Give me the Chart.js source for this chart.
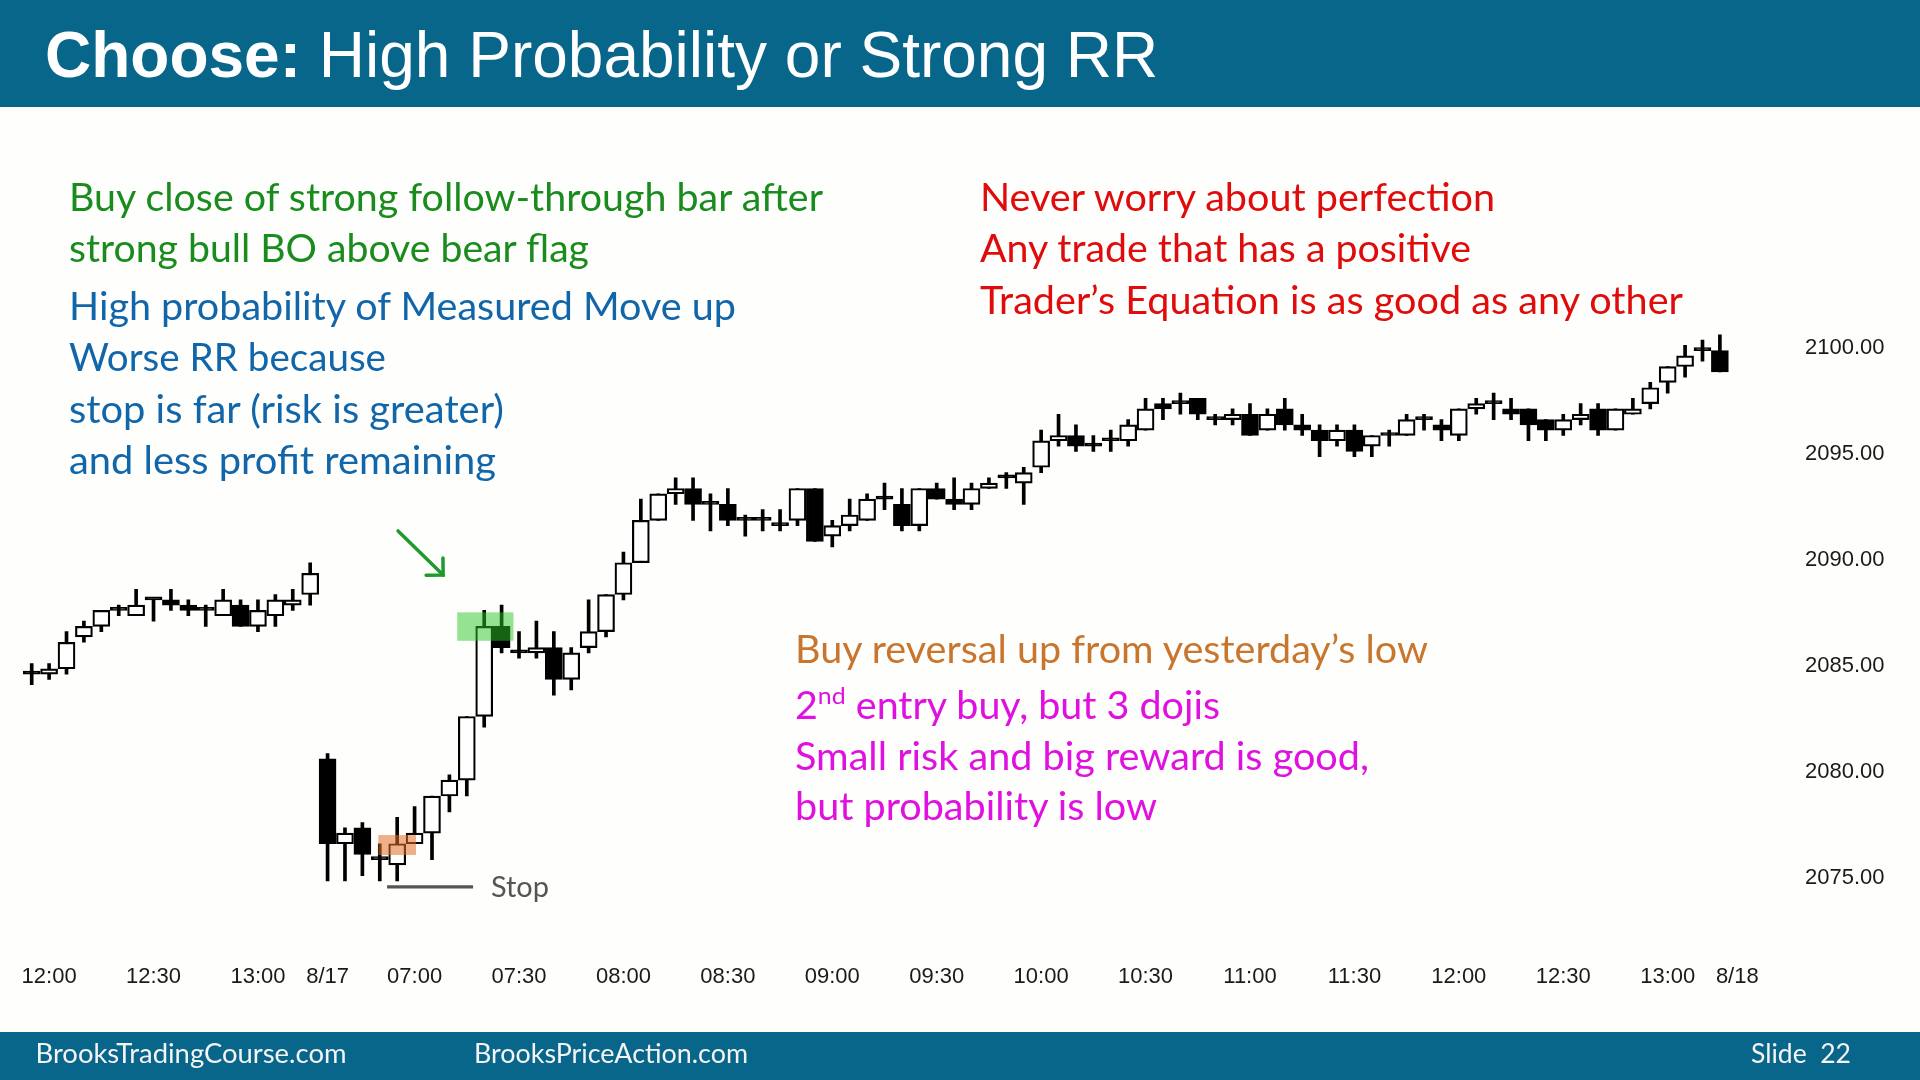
<!DOCTYPE html>
<html>
<head>
<meta charset="utf-8">
<script src="https://cdn.jsdelivr.net/npm/chart.js@4.4.1/dist/chart.umd.min.js"></script>
<style>
  html, body { margin:0; padding:0; width:1920px; height:1080px; overflow:hidden; background:#fefefc; }
  #hdr { position:absolute; left:0; top:0; width:1920px; height:107px; background:#07668a; }
  #ftr { position:absolute; left:0; top:1032px; width:1920px; height:48px; background:#07668a; }
  #c { position:absolute; left:0; top:0; }
  #ov { position:absolute; left:0; top:0; pointer-events:none; }
</style>
</head>
<body>
<div id="hdr"></div>
<div id="ftr"></div>
<canvas id="c" width="1920" height="1080"></canvas>
<svg id="ov" width="1920" height="1080" xmlns="http://www.w3.org/2000/svg">
  <text x="45" y="77" font-family="Liberation Sans, Arial, sans-serif" font-size="64" fill="#ffffff"><tspan font-weight="bold">Choose:</tspan> High Probability or Strong RR</text>

  <g font-family="Lato, sans-serif" font-size="38">
    <text x="69" y="210.6" fill="#1a8c1e" textLength="754" lengthAdjust="spacingAndGlyphs">Buy close of strong follow-through bar after</text>
    <text x="69" y="262" fill="#1a8c1e" textLength="520" lengthAdjust="spacingAndGlyphs">strong bull BO above bear flag</text>
    <text x="69" y="319.6" fill="#1166aa" textLength="667" lengthAdjust="spacingAndGlyphs">High probability of Measured Move up</text>
    <text x="69" y="371" fill="#1166aa" textLength="317" lengthAdjust="spacingAndGlyphs">Worse RR because</text>
    <text x="69" y="422.5" fill="#1166aa" textLength="435" lengthAdjust="spacingAndGlyphs">stop is far (risk is greater)</text>
    <text x="69" y="474" fill="#1166aa" textLength="427" lengthAdjust="spacingAndGlyphs">and less profit remaining</text>

    <text x="980" y="210.6" fill="#e00c0c" textLength="515" lengthAdjust="spacingAndGlyphs">Never worry about perfection</text>
    <text x="980" y="262" fill="#e00c0c" textLength="491" lengthAdjust="spacingAndGlyphs">Any trade that has a positive</text>
    <text x="980" y="313.5" fill="#e00c0c" textLength="703" lengthAdjust="spacingAndGlyphs">Trader’s Equation is as good as any other</text>

    <text x="795" y="662.5" fill="#c8762e" textLength="633" lengthAdjust="spacingAndGlyphs">Buy reversal up from yesterday’s low</text>
    <text x="795" y="718.8" fill="#e010e0" textLength="425" lengthAdjust="spacingAndGlyphs">2<tspan font-size="24" dy="-15">nd</tspan><tspan dy="15"> entry buy, but 3 dojis</tspan></text>
    <text x="795" y="770" fill="#e010e0" textLength="574" lengthAdjust="spacingAndGlyphs">Small risk and big reward is good,</text>
    <text x="795" y="820.4" fill="#e010e0" textLength="362" lengthAdjust="spacingAndGlyphs">but probability is low</text>

    <text x="491" y="896.5" fill="#555555" font-size="29" textLength="58" lengthAdjust="spacingAndGlyphs">Stop</text>
  </g>

  <g font-family="Lato, sans-serif" font-size="26" fill="#f4f4f4">
    <text x="35.5" y="1063" textLength="311" lengthAdjust="spacingAndGlyphs">BrooksTradingCourse.com</text>
    <text x="474" y="1063" textLength="274" lengthAdjust="spacingAndGlyphs">BrooksPriceAction.com</text>
    <text x="1751" y="1063" textLength="100" lengthAdjust="spacingAndGlyphs">Slide&#160; 22</text>
  </g>
</svg>

<script>
// ---- categories (5-minute bars), tick labels ----
const categories = [
  "11:55","12:00","12:05","12:10","12:15","12:20","12:25","12:30","12:35","12:40","12:45","12:50","12:55","13:00","13:05","13:10","13:15",
  "8/17","06:40","06:45","06:50","06:55",
  "07:00","07:05","07:10","07:15","07:20","07:25","07:30","07:35","07:40","07:45","07:50","07:55",
  "08:00","08:05","08:10","08:15","08:20","08:25","08:30","08:35","08:40","08:45","08:50","08:55",
  "09:00","09:05","09:10","09:15","09:20","09:25","09:30","09:35","09:40","09:45","09:50","09:55",
  "10:00","10:05","10:10","10:15","10:20","10:25","10:30","10:35","10:40","10:45","10:50","10:55",
  "11:00","11:05","11:10","11:15","11:20","11:25","11:30","11:35","11:40","11:45","11:50","11:55",
  "12:00","12:05","12:10","12:15","12:20","12:25","12:30","12:35","12:40","12:45","12:50","12:55",
  "13:00","13:05","13:10","13:15",
  "8/18"
];
const tickLabels = ["12:00","12:30","13:00","8/17","07:00","07:30","08:00","08:30","09:00","09:30","10:00","10:30","11:00","11:30","8/18"];
const yTickValues = [2075, 2080, 2085, 2090, 2095, 2100];

// ---- OHLC series ----
const opens = [
  2084.5,2084.5,2084.75,2086.25,2086.75,2087.5,2087.25,2088.0,2088.0,2087.75,2087.5,2087.25,2087.75,2086.75,2087.25,2087.75,2088.25,
  2080.5,2076.5,2077.25,2075.75,2075.5,2076.5,2077.0,2078.75,2079.5,2082.5,2086.75,2085.5,2085.5,2085.75,2084.25,2085.75,2086.5,2088.25,2089.75,
  2091.75,2093.0,2093.25,2092.5,2092.5,2091.75,2091.75,2091.5,2091.75,2093.25,2091.0,2091.5,2091.75,2092.75,2092.5,2091.5,2093.25,2092.75,2092.5,2093.25,
  2093.75,2093.5,2094.25,2095.5,2095.75,2095.25,2095.5,2095.5,2096.0,2097.25,2097.25,2097.5,2096.5,2096.5,2096.75,2096.0,2097.0,2096.25,2096.0,2095.5,
  2096.0,2095.25,2095.75,2095.75,2096.5,2096.25,2095.75,2097.0,2097.25,2097.0,2097.0,2096.5,2096.0,2096.5,2097.0,2096.0,2096.75,2097.25,2098.25,
  2099.0,2099.75,2099.75,null
];
const highs = [
  2085.0,2085.0,2086.5,2087.0,2087.5,2087.75,2088.5,2088.0,2088.5,2088.0,2087.75,2088.5,2088.0,2088.0,2088.25,2088.5,2089.75,
  2080.75,2077.25,2077.5,2076.5,2077.75,2078.25,2078.75,2079.75,2082.5,2087.5,2087.75,2086.5,2087.0,2086.5,2085.75,2088.0,2088.25,2090.25,2092.75,
  2093.0,2093.75,2093.75,2093.0,2093.25,2092.0,2092.25,2092.25,2093.25,2093.25,2091.75,2092.75,2093.0,2093.5,2093.25,2093.25,2093.5,2093.75,2093.5,2093.75,
  2094.0,2094.25,2096.0,2096.75,2096.25,2095.75,2096.0,2096.5,2097.5,2097.5,2097.75,2097.5,2096.75,2097.0,2097.25,2097.0,2097.5,2096.75,2096.25,2096.25,
  2096.25,2095.75,2096.0,2096.75,2096.75,2096.5,2097.0,2097.5,2097.75,2097.5,2097.0,2096.5,2096.75,2097.25,2097.25,2097.0,2097.5,2098.25,2099.0,
  2100.0,2100.25,2100.5,null
];
const lows = [
  2084.0,2084.25,2084.5,2086.0,2086.5,2087.25,2087.25,2087.0,2087.5,2087.25,2086.75,2087.25,2086.75,2086.5,2086.75,2087.5,2087.75,
  2074.75,2074.75,2075.0,2074.75,2074.75,2076.5,2075.75,2078.0,2078.75,2082.0,2085.5,2085.25,2085.25,2083.5,2083.75,2085.5,2086.25,2088.0,2089.75,
  2091.75,2092.5,2091.75,2091.25,2091.5,2091.0,2091.25,2091.25,2091.5,2090.75,2090.5,2091.25,2091.75,2092.25,2091.25,2091.25,2092.75,2092.25,2092.25,2093.25,
  2093.25,2092.5,2094.0,2095.25,2095.0,2095.0,2095.0,2095.25,2096.0,2096.5,2096.75,2096.5,2096.25,2096.25,2095.75,2096.0,2096.0,2095.75,2094.75,2095.25,
  2094.75,2094.75,2095.25,2095.75,2096.0,2095.5,2095.5,2096.75,2096.5,2096.5,2095.5,2095.5,2095.75,2096.25,2095.75,2096.0,2096.75,2097.0,2097.75,
  2098.5,2099.25,2098.75,null
];
const closes = [
  2084.5,2084.75,2086.0,2086.75,2087.5,2087.5,2087.75,2088.0,2087.75,2087.5,2087.5,2088.0,2086.75,2087.5,2088.0,2088.0,2089.25,
  2076.5,2077.0,2076.0,2075.75,2076.5,2077.0,2078.75,2079.5,2082.5,2086.75,2085.75,2085.5,2085.75,2084.25,2085.5,2086.5,2088.25,2089.75,2091.75,
  2093.0,2093.25,2092.5,2092.5,2091.75,2091.75,2091.75,2091.5,2093.25,2090.75,2091.5,2092.0,2092.75,2092.75,2091.5,2093.25,2092.75,2092.5,2093.25,2093.5,
  2093.75,2094.0,2095.5,2095.75,2095.25,2095.25,2095.5,2096.25,2097.0,2097.0,2097.25,2096.75,2096.5,2096.75,2095.75,2096.75,2096.25,2096.0,2095.5,2096.0,
  2095.0,2095.75,2095.75,2096.5,2096.5,2096.0,2097.0,2097.25,2097.25,2096.75,2096.25,2096.0,2096.5,2096.75,2096.0,2097.0,2097.0,2098.0,2099.0,
  2099.5,2099.75,2098.75,null
];

// ---- chart annotations in data units (category index, price) ----
const marks = {
  greenBox:  { from: 24.45, to: 27.68, low: 2086.07, high: 2087.41, color: 'rgba(40,200,40,0.5)' },
  orangeBox: { from: 19.92, to: 22.08, low: 2075.97, high: 2076.91, color: 'rgba(226,112,40,0.55)' },
  stopLine:  { from: 20.42, to: 25.36, price: 2074.47, color: '#555555' },
  arrow:     { fromX: 21.05, fromY: 2091.25, toX: 23.64, toY: 2089.17, color: '#1f9a2e' }
};

const bodies = opens.map((o, i) => o === null ? null : [o, closes[i]]);
const wicks  = lows.map((l, i) => l === null ? null : [l, highs[i]]);
const bodyFill = opens.map((o, i) => (o !== null && closes[i] > o) ? '#ffffff' : '#000000');

const markPlugin = {
  id: 'marks',
  afterDatasetsDraw(chart) {
    const { ctx, scales: { x, y } } = chart;
    ctx.save();
    [marks.greenBox, marks.orangeBox].forEach(b => {
      const x0 = x.getPixelForValue(b.from), x1 = x.getPixelForValue(b.to);
      const y0 = y.getPixelForValue(b.high), y1 = y.getPixelForValue(b.low);
      ctx.fillStyle = b.color;
      ctx.fillRect(x0, y0, x1 - x0, y1 - y0);
    });
    const s = marks.stopLine;
    ctx.strokeStyle = s.color; ctx.lineWidth = 3.3;
    ctx.beginPath();
    ctx.moveTo(x.getPixelForValue(s.from), y.getPixelForValue(s.price));
    ctx.lineTo(x.getPixelForValue(s.to), y.getPixelForValue(s.price));
    ctx.stroke();
    const a = marks.arrow;
    const ax0 = x.getPixelForValue(a.fromX), ay0 = y.getPixelForValue(a.fromY);
    const ax1 = x.getPixelForValue(a.toX), ay1 = y.getPixelForValue(a.toY);
    ctx.strokeStyle = a.color; ctx.lineWidth = 3.5; ctx.lineCap = 'round';
    ctx.beginPath(); ctx.moveTo(ax0, ay0); ctx.lineTo(ax1, ay1); ctx.stroke();
    const ang = Math.atan2(ay1 - ay0, ax1 - ax0), hl = 17;
    ctx.beginPath();
    ctx.moveTo(ax1 - hl * Math.cos(ang - Math.PI / 4), ay1 - hl * Math.sin(ang - Math.PI / 4));
    ctx.lineTo(ax1, ay1);
    ctx.lineTo(ax1 - hl * Math.cos(ang + Math.PI / 4), ay1 - hl * Math.sin(ang + Math.PI / 4));
    ctx.stroke();
    ctx.restore();
  }
};

const tickFont = { family: 'Liberation Sans, Arial, sans-serif', size: 22 };

new Chart(document.getElementById('c'), {
  type: 'bar',
  data: {
    labels: categories,
    datasets: [
      { label: 'body', data: bodies, backgroundColor: bodyFill, borderColor: '#000000', borderWidth: 2.2,
        borderSkipped: false, barThickness: 17, minBarLength: 3, grouped: false, order: 0 },
      { label: 'wick', data: wicks, backgroundColor: '#000000', borderWidth: 0,
        barThickness: 3, grouped: false, order: 1 }
    ]
  },
  options: {
    responsive: false, animation: false, events: [],
    layout: { padding: { left: 23, top: 292.3, right: 0, bottom: 0 } },
    plugins: { legend: { display: false }, tooltip: { enabled: false } },
    scales: {
      x: {
        type: 'category', offset: true,
        grid: { display: false, drawTicks: false }, border: { display: false },
        ticks: {
          autoSkip: false, maxRotation: 0, minRotation: 0, padding: 3, color: '#1a1a1a', font: tickFont,
          callback: function (v, i) { const l = categories[i]; return tickLabels.includes(l) ? l : ''; }
        },
        afterFit: (s) => { s.height = 119.6; }
      },
      y: {
        position: 'right', min: 2071, max: 2102.5,
        grid: { display: false, drawTicks: false }, border: { display: false },
        afterBuildTicks: (s) => { s.ticks = yTickValues.map(v => ({ value: v })); },
        ticks: { padding: 59, labelOffset: 2.5, color: '#1a1a1a', font: tickFont, callback: (v) => Number(v).toFixed(2) },
        afterFit: (s) => { s.width = 174; }
      }
    }
  },
  plugins: [markPlugin]
});
</script>
</body>
</html>
